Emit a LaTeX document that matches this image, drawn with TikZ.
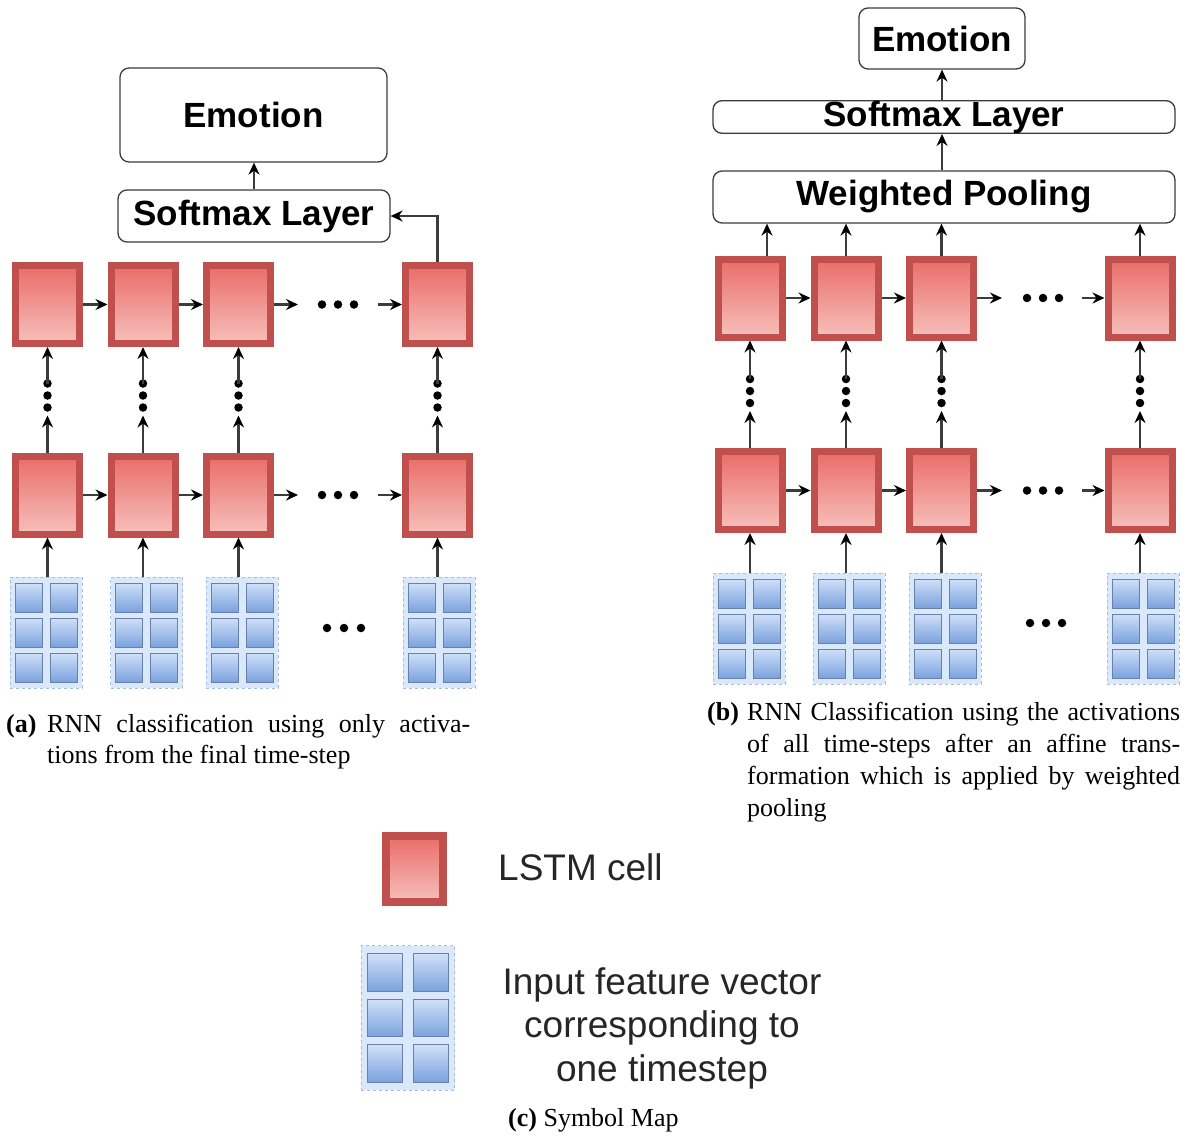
\documentclass[tikz,border=0pt]{standalone}
\usepackage{fontspec}
\setmainfont{Liberation Serif}
\setsansfont{Liberation Sans}
\usetikzlibrary{arrows.meta}
\definecolor{cellborder}{RGB}{192,80,77}
\definecolor{celltop}{RGB}{234,108,104}
\definecolor{cellbot}{RGB}{246,192,188}
\definecolor{inbgfill}{RGB}{218,232,252}
\definecolor{inbgdraw}{RGB}{165,190,228}
\definecolor{sqtop}{RGB}{208,224,248}
\definecolor{sqbot}{RGB}{122,162,222}
\definecolor{sqdraw}{RGB}{105,128,168}
\definecolor{linec}{RGB}{60,60,60}
\tikzset{
 cell/.style={draw=cellborder, line width=7pt, top color=celltop, bottom color=cellbot, minimum width=64pt, minimum height=78pt, inner sep=0pt},
 tbox/.style={draw=linec, line width=1.3pt, rounded corners=9pt, fill=white, inner sep=0pt, font=\sffamily\bfseries\fontsize{35}{40}\selectfont},
 conn/.style={draw=linec, line width=2.2pt, -{Stealth[length=12pt,width=11pt,inset=4pt,color=black]}},
 dotn/.style={circle, fill=black, minimum size=8.5pt, inner sep=0pt},
 inbg/.style={draw=inbgdraw, fill=inbgfill, dashed, line width=1pt, inner sep=0pt},
 insq/.style={draw=sqdraw, line width=1pt, top color=sqtop, bottom color=sqbot, inner sep=0pt},
 captxt/.style={inner sep=0pt, anchor=base west, font=\fontsize{26}{32}\selectfont},
 legtxt/.style={inner sep=0pt, text=black!85, font=\sffamily\fontsize{37}{43.5}\selectfont},
}
\newcommand\ingrid[4]{%
 \node[inbg, minimum width=72*#4, minimum height=111*#4] (#1) at (#2,#3) {};
 \foreach \dx/\c in {-17.5/a,17.5/b}{\foreach \dy/\r in {-35/1,0/2,35/3}{%
 \node[insq, minimum width=27*#4, minimum height=29*#4] (#1\c\r) at ([shift={(\dx*#4,\dy*#4)}]#1.center) {};}}%
}
\begin{document}
\begin{tikzpicture}[x=1pt,y=-1pt]
\useasboundingbox (0,0) rectangle (1190,1135);
\fill[white] (0,0) rectangle (1190,1135);

% ---------- (a) ----------
\node[tbox, minimum width=267pt, minimum height=94pt] (emA) at (253.5,115) {Emotion};
\node[tbox, minimum width=272pt, minimum height=52pt] (smA) at (254,216) {Softmax Layer};
\foreach \n/\x in {1/47.5,2/143,3/238.5,4/437.5}{
  \node[cell] (at\n) at (\x,304.5) {};
  \node[cell] (ab\n) at (\x,495) {};
}
\ingrid{ia1}{46}{632.5}{1}
\ingrid{ia2}{146.5}{632.5}{1}
\ingrid{ia3}{242}{632.5}{1}
\ingrid{ia4}{439}{632.5}{1}

% ---------- (b) ----------
\node[tbox, minimum width=166pt, minimum height=61pt] (emB) at (942,38.5) {Emotion};
\node[tbox, minimum width=462pt, minimum height=32pt] (smB) at (944,117) {Softmax Layer};
\node[tbox, minimum width=462pt, minimum height=52pt] (pool) at (944,197) {Weighted Pooling};
\foreach \n/\x in {1/750,2/846,3/941.5,4/1140}{
  \node[cell] (bt\n) at (\x,298) {};
  \node[cell] (bb\n) at (\x,490.5) {};
}
\ingrid{ib1}{749}{628.5}{1}
\ingrid{ib2}{849}{628.5}{1}
\ingrid{ib3}{945}{628.5}{1}
\ingrid{ib4}{1143}{628.5}{1}

% ---------- vertical links between rows ----------
\foreach \p/\q in {at/ab,bt/bb}{
 \foreach \n in {1,2,3,4}{
  \coordinate (\q\n tip) at ([yshift=37pt]\q\n.north);
  \node[dotn] (\q\n d1) at ([yshift=45pt]\q\n.north) {};
  \node[dotn] (\q\n d2) at ([yshift=57pt]\q\n.north) {};
  \node[dotn] (\q\n d3) at ([yshift=69pt]\q\n.north) {};
  \draw[conn] (\q\n.north) -- (\q\n tip);
  \draw[conn] (\q\n d3.center) -- (\p\n.south);
 }
}

% ---------- horizontal links ----------
\foreach \r/\y in {at/304.5,ab/495}{
  \draw[conn] (\r1.east) -- (\r2.west);
  \draw[conn] (\r2.east) -- (\r3.west);
  \coordinate (\r e) at (298,\y);
  \coordinate (\r s) at (378,\y);
  \node[dotn] (\r h1) at (322,\y) {};
  \node[dotn] (\r h2) at (338,\y) {};
  \node[dotn] (\r h3) at (354,\y) {};
  \draw[conn] (\r3.east) -- (\r e);
  \draw[conn] (\r s) -- (\r4.west);
}
\foreach \r/\y in {bt/298,bb/490.5}{
  \draw[conn] (\r1.east) -- (\r2.west);
  \draw[conn] (\r2.east) -- (\r3.west);
  \coordinate (\r e) at (1002,\y);
  \coordinate (\r s) at (1082,\y);
  \node[dotn] (\r h1) at (1027,\y) {};
  \node[dotn] (\r h2) at (1043,\y) {};
  \node[dotn] (\r h3) at (1059,\y) {};
  \draw[conn] (\r3.east) -- (\r e);
  \draw[conn] (\r s) -- (\r4.west);
}

% ---------- input links ----------
\foreach \n in {1,2,3,4}{
  \draw[conn] (ab\n.south |- ia\n.north) -- (ab\n.south);
  \draw[conn] (bb\n.south |- ib\n.north) -- (bb\n.south);
}
\node[dotn] (iad1) at (327,628) {};
\node[dotn] (iad2) at (344,628) {};
\node[dotn] (iad3) at (361,628) {};
\node[dotn] (ibd1) at (1030,623) {};
\node[dotn] (ibd2) at (1046,623) {};
\node[dotn] (ibd3) at (1062,623) {};

% ---------- top links ----------
\draw[conn] (smA.north) -- (smA.north |- emA.south);
\draw[conn] (at4.north) |- (smA.east);
\draw[conn] ([xshift=17pt]bt1.north) -- ([xshift=17pt]bt1.north |- pool.south);
\foreach \n in {2,3,4}{
  \draw[conn] (bt\n.north) -- (bt\n.north |- pool.south);
}
\draw[conn] (emB.south |- pool.north) -- (emB.south |- smB.south);
\draw[conn] (emB.south |- smB.north) -- (emB.south);

% ---------- legend ----------
\node[cell, minimum width=57pt, minimum height=66pt, line width=8pt] (lgcell) at (414.5,869) {};
\node[legtxt, anchor=west] (lgcelltxt) at (498,867) {LSTM cell};
\ingrid{lg}{408}{1018}{1.3}
\node[legtxt, align=center] (lgintxt) at (662,1028) {Input feature vector\\corresponding to\\one timestep};

% ---------- captions ----------
\node[captxt] (capa0) at (6,732) {\textbf{(a)}};
\node[captxt] (capa1) at (47,732) {\makebox[423pt][s]{RNN classification using only activa-}};
\node[captxt] (capa2) at (47,763) {tions from the final time-step};
\node[captxt] (capb0) at (707,720) {\textbf{(b)}};
\node[captxt] (capb1) at (747,720) {\makebox[433pt][s]{RNN Classification using the activations}};
\node[captxt] (capb2) at (747,752) {\makebox[433pt][s]{of all time-steps after an affine trans-}};
\node[captxt] (capb3) at (747,784) {\makebox[433pt][s]{formation which is applied by weighted}};
\node[captxt] (capb4) at (747,816) {pooling};
\node[captxt] (capc) at (508,1126) {\textbf{(c)} Symbol Map};
\end{tikzpicture}
\end{document}
